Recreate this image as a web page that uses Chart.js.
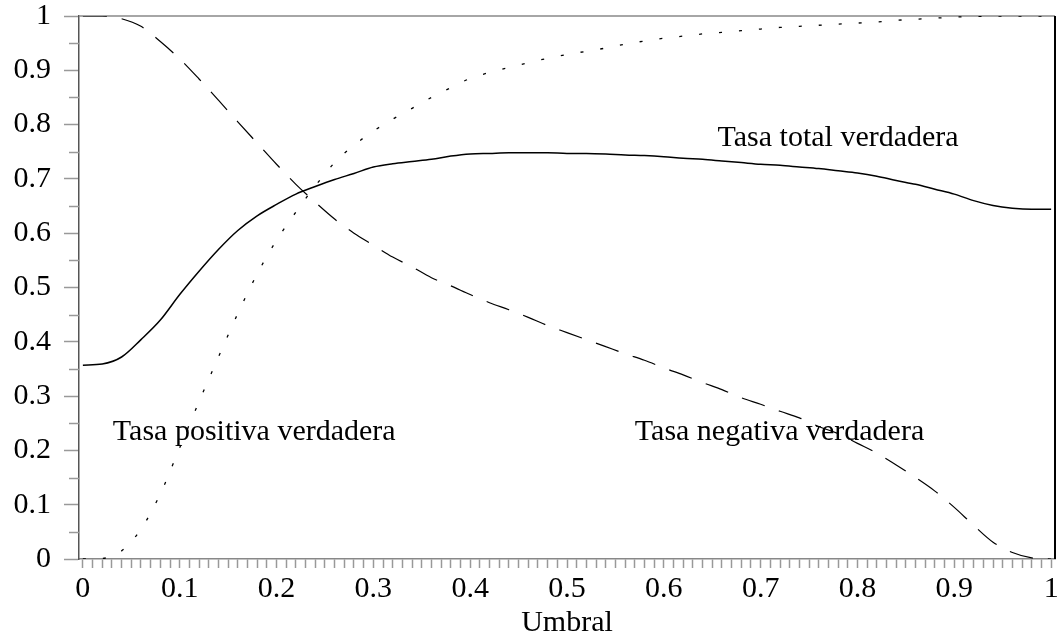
<!DOCTYPE html>
<html>
<head>
<meta charset="utf-8">
<script src="https://cdn.jsdelivr.net/npm/chart.js@4.4.0/dist/chart.umd.min.js"></script>
<style>
  html, body { margin: 0; padding: 0; background: #fff; }
</style>
</head>
<body>
<canvas id="grafico" width="1062" height="642"></canvas>
<script>
// valores
var umbral = [0, 0.02, 0.04, 0.06, 0.08, 0.10, 0.12, 0.14, 0.16, 0.18, 0.20, 0.22, 0.24, 0.26, 0.28, 0.30,
  0.32, 0.34, 0.36, 0.38, 0.40, 0.42, 0.44, 0.46, 0.48, 0.50, 0.52, 0.54, 0.56, 0.58, 0.60, 0.62, 0.64,
  0.66, 0.68, 0.70, 0.72, 0.74, 0.76, 0.78, 0.80, 0.82, 0.84, 0.86, 0.88, 0.90, 0.92, 0.94, 0.96, 0.98, 1.00];

var tasaTotal = [0.357, 0.359, 0.372, 0.404, 0.440, 0.487, 0.530, 0.570, 0.605, 0.632, 0.653, 0.672, 0.686,
  0.699, 0.710, 0.722, 0.728, 0.732, 0.736, 0.742, 0.746, 0.747, 0.748, 0.748, 0.748, 0.747, 0.747, 0.746,
  0.744, 0.743, 0.741, 0.738, 0.736, 0.733, 0.730, 0.727, 0.725, 0.722, 0.719, 0.715, 0.711, 0.705, 0.697,
  0.690, 0.681, 0.672, 0.660, 0.651, 0.646, 0.644, 0.644];

var tasaPositiva = [0, 0.001, 0.015, 0.055, 0.120, 0.205, 0.290, 0.372, 0.452, 0.525, 0.587, 0.639, 0.687,
  0.730, 0.762, 0.788, 0.810, 0.830, 0.850, 0.868, 0.885, 0.896, 0.905, 0.914, 0.922, 0.929, 0.935, 0.941,
  0.948, 0.954, 0.959, 0.963, 0.967, 0.970, 0.973, 0.976, 0.979, 0.981, 0.983, 0.985, 0.987, 0.989, 0.992,
  0.994, 0.996, 0.998, 0.999, 1, 1, 1, 1];

var tasaNegativa = [1, 1, 0.995, 0.981, 0.953, 0.921, 0.884, 0.845, 0.805, 0.766, 0.727, 0.690, 0.657,
  0.626, 0.600, 0.578, 0.556, 0.538, 0.518, 0.503, 0.487, 0.472, 0.459, 0.445, 0.430, 0.417, 0.404, 0.391,
  0.378, 0.366, 0.352, 0.339, 0.325, 0.312, 0.297, 0.285, 0.272, 0.260, 0.244, 0.231, 0.213, 0.195, 0.173,
  0.150, 0.125, 0.095, 0.062, 0.031, 0.012, 0.002, 0];

var nombres = ['Tasa total verdadera', 'Tasa positiva verdadera', 'Tasa negativa verdadera'];
var marcasX = [0, 0.1, 0.2, 0.3, 0.4, 0.5, 0.6, 0.7, 0.8, 0.9, 1];
var etiquetasX = ['0', '0.1', '0.2', '0.3', '0.4', '0.5', '0.6', '0.7', '0.8', '0.9', '1'];
var marcasY = [0, 0.1, 0.2, 0.3, 0.4, 0.5, 0.6, 0.7, 0.8, 0.9, 1];
var etiquetasY = ['0', '0.1', '0.2', '0.3', '0.4', '0.5', '0.6', '0.7', '0.8', '0.9', '1'];

var fuente = '"Liberation Serif", "DejaVu Serif", serif';
var tamFuente = 30;
// donde va cada nombre (centro del texto, en unidades de los ejes)
var posNombres = [[0.78, 0.761], [0.177, 0.219], [0.7195, 0.219]];

function buscar(lista, valor) {
  for (var i = 0; i < lista.length; i++) {
    if (Math.abs(lista[i] - valor) < 1e-6) return i;
  }
  return -1;
}

function serie(valores) {
  return umbral.map(function (u, i) { return { x: u, y: valores[i] }; });
}

var marco = {
  id: 'marco',
  beforeDatasetsDraw: function (chart) {
    var a = chart.chartArea;
    var ctx = chart.ctx;
    var y = chart.scales.y;
    ctx.save();
    ctx.strokeStyle = '#888';
    ctx.lineWidth = 1.5;
    ctx.beginPath();
    ctx.moveTo(a.left, a.top);
    ctx.lineTo(a.right, a.top);
    ctx.stroke();
    ctx.strokeStyle = '#000';
    ctx.lineWidth = 2;
    ctx.beginPath();
    ctx.moveTo(a.right, a.top);
    ctx.lineTo(a.right, a.bottom);
    ctx.stroke();
    // marcas cortas del eje y
    ctx.strokeStyle = '#999';
    ctx.lineWidth = 1.5;
    y.ticks.forEach(function (t) {
      if (buscar(marcasY, t.value) >= 0) return;
      var py = Math.round(y.getPixelForValue(t.value)) + 0.5;
      ctx.beginPath();
      ctx.moveTo(a.left - 10, py);
      ctx.lineTo(a.left, py);
      ctx.stroke();
    });
    ctx.restore();
  }
};

var nombresPlugin = {
  id: 'nombres',
  afterDatasetsDraw: function (chart) {
    var ctx = chart.ctx;
    var x = chart.scales.x;
    var y = chart.scales.y;
    ctx.save();
    ctx.font = tamFuente + 'px ' + fuente;
    ctx.fillStyle = '#000';
    ctx.textAlign = 'center';
    ctx.textBaseline = 'alphabetic';
    posNombres.forEach(function (p, i) {
      ctx.fillText(nombres[i], x.getPixelForValue(p[0]), y.getPixelForValue(p[1]));
    });
    ctx.restore();
  }
};

var grafico = new Chart(document.getElementById('grafico').getContext('2d'), {
  type: 'line',
  data: {
    datasets: [{
      label: nombres[0],
      data: serie(tasaTotal),
      borderColor: '#000',
      borderWidth: 1.5,
      pointRadius: 0,
      cubicInterpolationMode: 'monotone',
      fill: false
    }, {
      label: nombres[1],
      data: serie(tasaPositiva),
      borderColor: '#000',
      borderWidth: 1.3,
      borderDash: [3, 17],
      pointRadius: 0,
      cubicInterpolationMode: 'monotone',
      fill: false
    }, {
      label: nombres[2],
      data: serie(tasaNegativa),
      borderColor: '#000',
      borderWidth: 1.2,
      borderDash: [24, 15],
      pointRadius: 0,
      cubicInterpolationMode: 'monotone',
      fill: false
    }]
  },
  options: {
    responsive: false,
    devicePixelRatio: 1,
    animation: false,
    layout: { padding: { top: 16, right: 7, left: 0, bottom: 0 } },
    plugins: {
      legend: { display: false },
      tooltip: { enabled: false }
    },
    scales: {
      x: {
        type: 'linear',
        min: -0.004,
        max: 1.004,
        afterFit: function (s) {
          s.height = 83;
          s.paddingLeft = 0;
          s.paddingRight = 0;
        },
        border: { color: '#888', width: 1.5 },
        grid: {
          drawOnChartArea: false,
          tickLength: 9,
          tickColor: '#999',
          tickWidth: 1.5
        },
        ticks: {
          stepSize: 0.01,
          includeBounds: false,
          autoSkip: false,
          maxRotation: 0,
          padding: 3,
          color: '#000',
          font: { family: fuente, size: tamFuente },
          callback: function (value) {
            var i = buscar(marcasX, value);
            return i >= 0 ? etiquetasX[i] : '';
          }
        },
        title: {
          display: true,
          text: 'Umbral',
          color: '#000',
          font: { family: fuente, size: tamFuente },
          padding: { top: 0, bottom: 1 }
        }
      },
      y: {
        type: 'linear',
        min: 0,
        max: 1,
        afterFit: function (s) {
          s.width = 79;
          s.paddingTop = 0;
          s.paddingBottom = 0;
        },
        border: { color: '#555', width: 1.5 },
        grid: {
          drawOnChartArea: false,
          tickLength: 15,
          tickWidth: 1.5,
          tickColor: function (c) {
            return c.tick && buscar(marcasY, c.tick.value) >= 0 ? '#999' : 'rgba(0,0,0,0)';
          }
        },
        ticks: {
          stepSize: 0.05,
          autoSkip: false,
          padding: 13,
          color: '#000',
          font: { family: fuente, size: tamFuente },
          callback: function (value) {
            var i = buscar(marcasY, value);
            return i >= 0 ? etiquetasY[i] : '';
          }
        }
      }
    }
  },
  plugins: [marco, nombresPlugin]
});
</script>
</body>
</html>
